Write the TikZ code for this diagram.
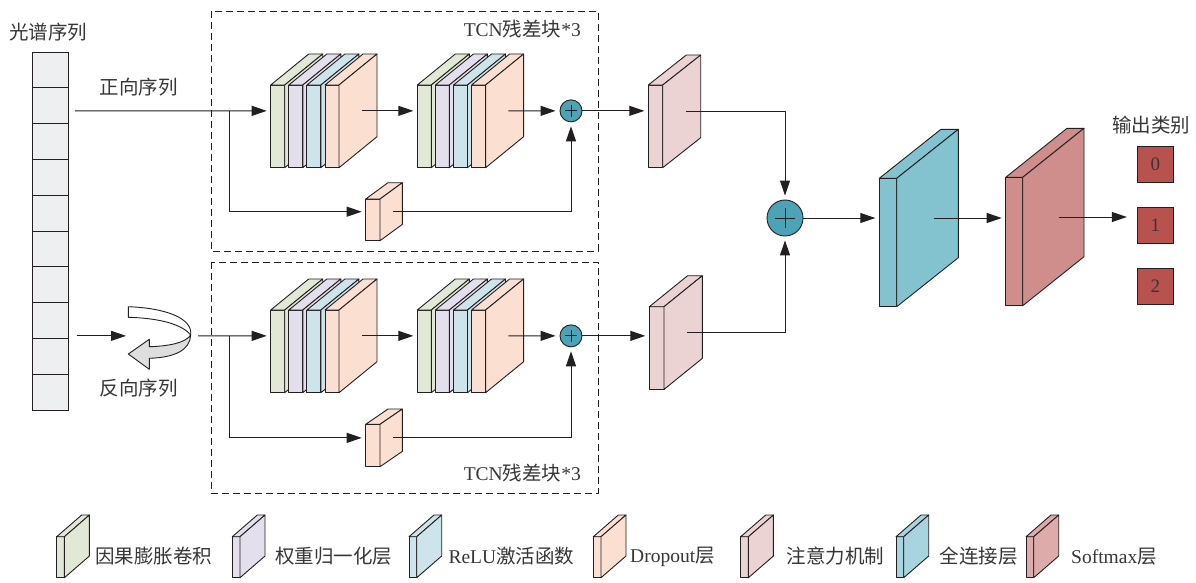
\documentclass[tikz,border=0pt]{standalone}
\usepackage{fontspec}
\setmainfont{Liberation Serif}
\newfontfamily\cjk{Noto Sans CJK SC}
\usetikzlibrary{arrows.meta,calc}

\definecolor{linec}{HTML}{231F20}
\definecolor{txtc}{HTML}{363636}
\definecolor{cdil}{HTML}{E1E9D6}
\definecolor{cwn}{HTML}{E4DFEC}
\definecolor{crelu}{HTML}{CDE5EA}
\definecolor{cdrop}{HTML}{FBE0D2}
\definecolor{catt}{HTML}{EBD3D4}
\definecolor{cfc}{HTML}{83C3CF}
\definecolor{csm}{HTML}{CF8D8C}
\definecolor{cfcl}{HTML}{A8D4DF}
\definecolor{csml}{HTML}{DDABAA}
\definecolor{cplus}{HTML}{4BA3B5}
\definecolor{cout}{HTML}{B8524F}
\definecolor{ccell}{HTML}{EEEFF1}
\definecolor{crot}{HTML}{DEDEDE}

% slab: name, x, y (front top left), width, height, depth x, depth y, fill
\newcommand{\slab}[8]{%
  \filldraw[fill=#8,slabline] (#2,#3) rectangle (#2+#4,#3+#5);
  \filldraw[fill=#8,slabline] (#2,#3) -- (#2+#6,#3+#7) -- (#2+#4+#6,#3+#7) -- (#2+#4,#3) -- cycle;
  \filldraw[fill=#8,slabline] (#2+#4,#3) -- (#2+#4+#6,#3+#7) -- (#2+#4+#6,#3+#5+#7) -- (#2+#4,#3+#5) -- cycle;
  \coordinate (#1-in) at (#2,#3+#5/2+#7/2);
  \coordinate (#1-out) at (#2+#4+0.6*#6,#3+#5/2+#7/2);
}

\begin{document}
\begin{tikzpicture}[x=1pt,y=-1pt,>={Triangle[length=15pt,width=10pt]},
    every node/.style={text=txtc},
    slabline/.style={draw=linec,line width=0.9pt,line join=round},
    iconline/.style={draw=linec,line width=0.9pt,line join=round},
    conn/.style={draw=linec,line width=1pt,shorten >=4pt},
    tcnbox/.style={draw=linec,line width=1pt,dash pattern=on 7pt off 4pt},
    cell/.style={draw=linec,fill=ccell,line width=0.9pt,minimum width=36pt,minimum height=35.8pt,inner sep=0pt},
    lbl/.style={font=\fontsize{19.5}{22}\selectfont\cjk},
    tcnlbl/.style={font=\fontsize{19.5}{22}\selectfont,inner sep=0pt},
    legtext/.style={font=\fontsize{19.5}{22}\selectfont,inner sep=0pt},
    outbox/.style={draw=linec,fill=cout,line width=0.9pt,minimum width=36pt,minimum height=35.6pt,inner sep=0pt,font=\fontsize{19}{20}\selectfont},
    plusc/.style={circle,draw=linec,fill=cplus,line width=0.9pt,inner sep=0pt,minimum size=#1,
      path picture={\draw[linec,line width=0.9pt]
        ([xshift=0.22*#1]path picture bounding box.west) -- ([xshift=-0.22*#1]path picture bounding box.east)
        ([yshift=-0.22*#1]path picture bounding box.north) -- ([yshift=0.22*#1]path picture bounding box.south);}}]
  \useasboundingbox (0,0) rectangle (1196,582);

  % spectral sequence
  \node[lbl] (seq-title) at (48.3,32) {光谱序列};
  \foreach \i in {0,...,9}
    \node[cell] (c\i) at (50.3,69.9+35.8*\i) {};
  \node[lbl] (fwd-lbl) at (138.5,87) {正向序列};
  \node[lbl] (bwd-lbl) at (138.5,388.3) {反向序列};

  % reversing icon
  \filldraw[fill=white,iconline] (128.3,306.7) .. controls (165,308) and (193,318) .. (190.7,335)
    .. controls (182,324) and (158,318) .. (128.3,317.3) -- cycle;
  \filldraw[fill=crot,iconline] (190.7,335) .. controls (190,350) and (175,357.5) .. (149.3,358.3)
    -- (149.3,369.3) -- (128.3,354) -- (149.3,339.3) -- (149.3,346.7)
    .. controls (172,346) and (186,342) .. (190.7,335) -- cycle;
  \coordinate (rot-in) at (130,335.85);
  \coordinate (rot-out) at (198,335.85);

  % TCN residual blocks
  \draw[tcnbox] (211,11) rectangle (598,251);
  \draw[tcnbox] (211,262) rectangle (598,493);
  \node[tcnlbl,anchor=east] (tcn1-lbl) at (581,29) {TCN{\cjk 残差块}*3};
  \node[tcnlbl,anchor=east] (tcn2-lbl) at (581,473) {TCN{\cjk 残差块}*3};

  \foreach \row/\ty in {1/85,2/310}{
    \foreach \stk/\sx in {1/270.7,2/417.3}{
      \foreach \k/\col in {0/cdil,1/cwn,2/crelu,3/cdrop}{
        \slab{s\row\stk\k}{\sx+18.1*\k}{\ty}{14}{82.7}{38}{-31}{\col}
      }
    }
  }
  \slab{r1}{365.7}{199}{14.3}{41.7}{22.3}{-16.3}{cdrop}
  \slab{r2}{365.7}{424.3}{14.3}{42.4}{22.3}{-15.3}{cdrop}

  \node[plusc=22pt] (p1) at (571,110.85) {};
  \node[plusc=22pt] (p2) at (571,335.85) {};

  % attention, fusion, classifier
  \slab{a1}{648.3}{85}{14.4}{82.7}{38}{-30}{catt}
  \slab{a2}{649.3}{306.7}{14.7}{82.7}{38.3}{-31}{catt}
  \node[plusc=36pt] (pc) at (785,218) {};
  \slab{fc}{879.3}{178.3}{17.4}{128.4}{61.6}{-49}{cfc}
  \slab{sm}{1005.7}{177.3}{17}{128.4}{61.3}{-49}{csm}

  \node[lbl] (out-title) at (1151,125) {输出类别};
  \foreach \i/\yy in {0/164.5,1/225.5,2/286.7}
    \node[outbox] (o\i) at (1155.3,\yy) {\i};

  % connectors
  \coordinate (fwd-start) at (75,110.85);
  \coordinate (t1-split) at (229.3,110.85);
  \coordinate (bwd-start) at (76.7,335.85);
  \coordinate (t2-split) at (229.3,335.85);

  \draw[conn,->] (fwd-start) -- (s110-in);
  \draw[conn,->] (t1-split) |- (r1-in);
  \draw[conn,->] (s113-out) -- (s120-in);
  \draw[conn,->] (s123-out) -- (p1);
  \draw[conn,->] (r1-out) -| (p1);
  \draw[conn,->] (p1) -- (p1 -| a1-in);

  \draw[conn,->] (bwd-start) -- (rot-in);
  \draw[conn,->] (rot-out) -- (s210-in);
  \draw[conn,->] (t2-split) |- (r2-in);
  \draw[conn,->] (s213-out) -- (s220-in);
  \draw[conn,->] (s223-out) -- (p2);
  \draw[conn,->] (r2-out) -| (p2);
  \draw[conn,->] (p2) -- (p2 -| a2-in);

  \draw[conn,->] (a1-out) -| (pc);
  \draw[conn,->] (a2-out) -| (pc);
  \draw[conn,->] (pc) -- (pc -| fc-in);
  \draw[conn,->] (fc-out) -- (fc-out -| sm-in);
  \draw[conn,->,shorten >=10pt] (sm-out) -- (sm-out -| o1.west);

  % legend
  \foreach \bx/\tx/\col/\txt [count=\n] in {
      56.7/95/cdil/{\cjk 因果膨胀卷积},
      232.3/275/cwn/{\cjk 权重归一化层},
      409/448.3/crelu/{ReLU{\cjk 激活函数}},
      593.3/630/cdrop/{Dropout{\cjk 层}},
      740.7/786.7/catt/{\cjk 注意力机制},
      896/939.3/cfcl/{\cjk 全连接层},
      1026/1071/csml/{Softmax{\cjk 层}}}{
    \slab{leg\n}{\bx}{536.7}{7.7}{41}{25}{-21.7}{\col}
    \node[legtext,anchor=west] (legt\n) at (\tx,556.5) {\txt};
  }
\end{tikzpicture}
\end{document}
